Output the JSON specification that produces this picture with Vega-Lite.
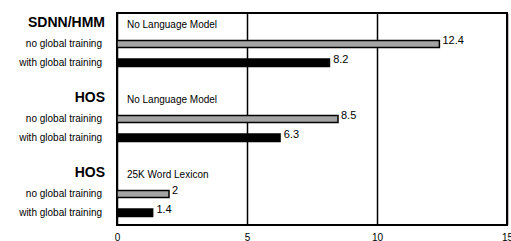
{
  "$schema": "https://vega.github.io/schema/vega-lite/v6.json",
  "width": 390,
  "height": 212,
  "autosize": {"type": "none"},
  "padding": {"left": 117, "top": 13, "right": 4, "bottom": 16},
  "config": {
    "font": "Liberation Sans",
    "view": {"stroke": "#000", "strokeWidth": 2},
    "text": {"font": "Liberation Sans"}
  },
  "datasets": {
    "bars": [
      {"row": "n1", "label": "no global training", "value": 12.4, "kind": "no"},
      {"row": "w1", "label": "with global training", "value": 8.2, "kind": "with"},
      {"row": "n2", "label": "no global training", "value": 8.5, "kind": "no"},
      {"row": "w2", "label": "with global training", "value": 6.3, "kind": "with"},
      {"row": "n3", "label": "no global training", "value": 2, "kind": "no"},
      {"row": "w3", "label": "with global training", "value": 1.4, "kind": "with"}
    ],
    "headers": [
      {"row": "h1", "label": "SDNN/HMM", "note": "No Language Model"},
      {"row": "h2", "label": "HOS", "note": "No Language Model"},
      {"row": "h3", "label": "HOS", "note": "25K Word Lexicon"}
    ]
  },
  "encoding": {
    "y": {
      "field": "row",
      "type": "nominal",
      "axis": null,
      "scale": {
        "domain": ["h1", "n1", "w1", "s1", "h2", "n2", "w2", "s2", "h3", "n3", "w3"],
        "paddingInner": 0,
        "paddingOuter": 0.15
      }
    }
  },
  "layer": [
    {
      "data": {"name": "bars"},
      "transform": [{"filter": "datum.kind === 'no'"}],
      "mark": {"type": "bar", "height": 7, "fill": "#a4a4a4", "stroke": "#000", "strokeWidth": 1.5},
      "encoding": {
        "x": {
          "field": "value",
          "type": "quantitative",
          "scale": {"domain": [0, 15], "nice": false, "zero": true},
          "axis": {
            "values": [0, 5, 10, 15],
            "title": null,
            "grid": true,
            "gridColor": "#000",
            "gridWidth": 1.5,
            "gridOpacity": 1,
            "ticks": false,
            "domain": false,
            "labelFlush": false,
            "labelOverlap": false,
            "labelBound": false,
            "labelFontSize": 10,
            "labelColor": "#000",
            "labelPadding": 7,
            "labelFont": "Liberation Sans"
          }
        }
      }
    },
    {
      "data": {"name": "bars"},
      "transform": [{"filter": "datum.kind === 'with'"}],
      "mark": {"type": "bar", "height": 9, "fill": "#000"},
      "encoding": {
        "x": {"field": "value", "type": "quantitative"}
      }
    },
    {
      "data": {"name": "bars"},
      "mark": {"type": "text", "align": "left", "baseline": "middle", "dx": 3, "dy": -3, "fontSize": 11, "color": "#000"},
      "encoding": {
        "x": {"field": "value", "type": "quantitative"},
        "text": {"field": "value", "type": "quantitative"}
      }
    },
    {
      "data": {"name": "bars"},
      "mark": {"type": "text", "align": "right", "baseline": "middle", "dx": -15, "fontSize": 10, "color": "#000"},
      "encoding": {
        "x": {"datum": 0, "type": "quantitative"},
        "text": {"field": "label", "type": "nominal"}
      }
    },
    {
      "data": {"name": "headers"},
      "mark": {"type": "text", "align": "right", "baseline": "middle", "dx": -12, "dy": -2, "fontSize": 14, "fontWeight": "bold", "color": "#000"},
      "encoding": {
        "x": {"datum": 0, "type": "quantitative"},
        "text": {"field": "label", "type": "nominal"}
      }
    },
    {
      "data": {"name": "headers"},
      "mark": {"type": "text", "align": "left", "baseline": "middle", "dx": 10, "fontSize": 10, "color": "#000"},
      "encoding": {
        "x": {"datum": 0, "type": "quantitative"},
        "text": {"field": "note", "type": "nominal"}
      }
    }
  ]
}
